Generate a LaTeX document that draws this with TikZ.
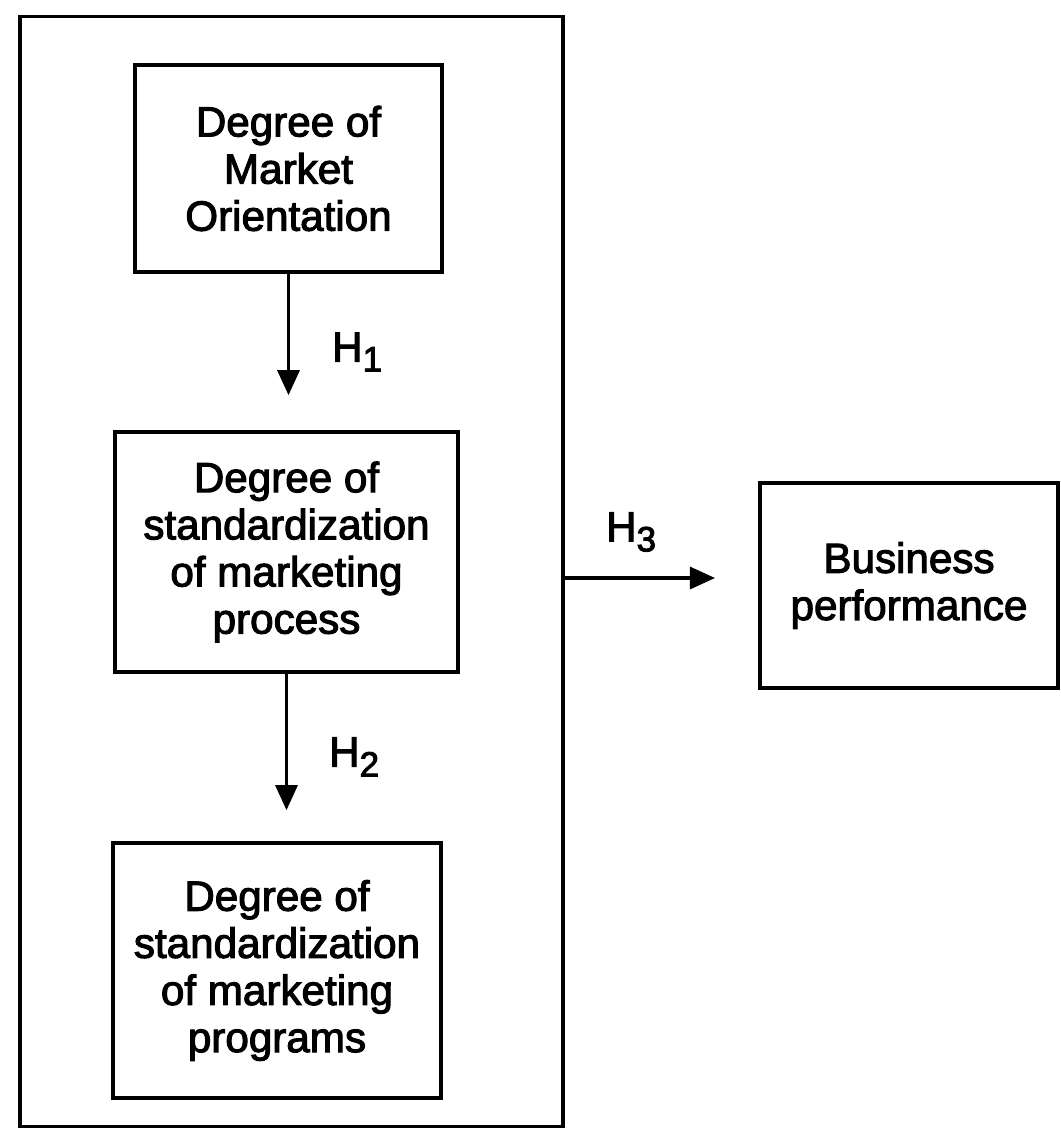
\documentclass[tikz,border=0pt]{standalone}
\usepackage{fontspec}
\setmainfont{Liberation Sans}[FakeBold=2.5]
\usetikzlibrary{arrows.meta}

\begin{document}
\begin{tikzpicture}[x=0.01cm, y=-0.01cm, line width=1pt,
    box/.style={draw, align=center, inner sep=0pt, font=\fontsize{12}{13.4}\selectfont},
    arr/.style={-{Triangle[width=0.22cm, length=0.25cm]}, line width=0.9pt},
    hyp/.style={font=\fontsize{12}{13.4}\selectfont}]
    \useasboundingbox (0, 0) rectangle (1061, 1130);
    % frame round the three degrees
    \node [draw, minimum width=5.43cm, minimum height=11.09cm] (frame) at (291.5, 571.5) {};
    \node [box, minimum width=3.07cm, minimum height=2.07cm] (mo) at (288.5, 168.5) {Degree of\\Market\\Orientation};
    \node [box, minimum width=3.43cm, minimum height=2.4cm] (proc) at (286.5, 552) {Degree of\\standardization\\of marketing\\process};
    \node [box, minimum width=3.28cm, minimum height=2.55cm] (prog) at (277, 970.5) {Degree of\\standardization\\of marketing\\programs};
    % outcome
    \node [box, minimum width=2.98cm, minimum height=2.05cm] (bp) at (909, 585.5) {Business\\performance};
    % hypotheses
    \draw [arr, shorten >=0.35cm] (mo.south) -- (mo.south |- proc.north);
    \node [hyp] (h1) at (358, 352) {H\textsubscript{\fontsize{10}{10}\selectfont 1}};
    \draw [arr, shorten >=0.31cm] (proc.south) -- (proc.south |- prog.north);
    \node [hyp] (h2) at (355, 757) {H\textsubscript{\fontsize{10}{10}\selectfont 2}};
    \coordinate (h3end) at (715, 578);
    \draw [arr] (frame.east |- h3end) -- (h3end);
    \node [hyp] (h3) at (632, 532) {H\textsubscript{\fontsize{10}{10}\selectfont 3}};
\end{tikzpicture}
\end{document}
